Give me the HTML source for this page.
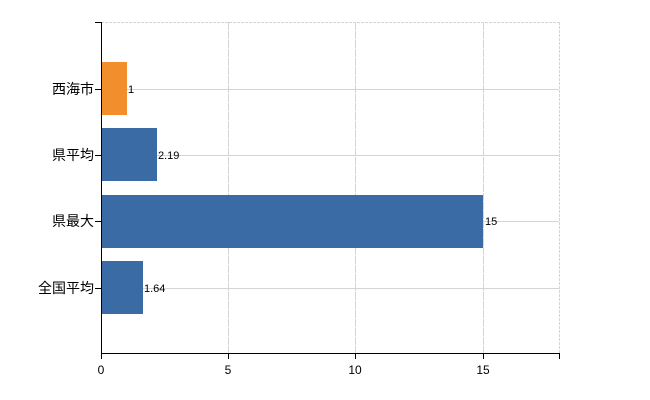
<!DOCTYPE html>
<html><head><meta charset="utf-8"><style>body{margin:0;background:#fff}svg{display:block}</style></head><body>
<svg width="650" height="400" xmlns="http://www.w3.org/2000/svg" font-family="Liberation Sans, Noto Sans CJK JP, sans-serif">
<g stroke="#d4d4d4" stroke-width="1">
<line x1="101" y1="22.5" x2="559" y2="22.5" stroke-dasharray="3,1"/>
<line x1="101" y1="89.5" x2="559" y2="89.5"/>
<line x1="101" y1="155.5" x2="559" y2="155.5"/>
<line x1="101" y1="221.5" x2="559" y2="221.5"/>
<line x1="101" y1="288.5" x2="559" y2="288.5"/>
<line x1="228.5" y1="22" x2="228.5" y2="353" stroke-dasharray="8,1"/>
<line x1="355.5" y1="22" x2="355.5" y2="353" stroke-dasharray="8,1"/>
<line x1="483.5" y1="22" x2="483.5" y2="353" stroke-dasharray="8,1"/>
<line x1="559.5" y1="22" x2="559.5" y2="353" stroke-dasharray="3,1"/>
</g>
<rect x="101" y="62" width="26" height="53" fill="#f28e2b"/>
<rect x="101" y="128" width="56" height="53" fill="#3b6ba5"/>
<rect x="101" y="195" width="382" height="53" fill="#3b6ba5"/>
<rect x="101" y="261" width="42" height="53" fill="#3b6ba5"/>
<g font-size="11" fill="#000">
<text x="128" y="93">1</text>
<text x="158" y="159">2.19</text>
<text x="485" y="225">15</text>
<text x="144" y="292">1.64</text>
</g>
<g stroke="#000" stroke-width="1">
<line x1="101.5" y1="22" x2="101.5" y2="353"/>
<line x1="101" y1="353.5" x2="559" y2="353.5"/>
<line x1="95" y1="22.5" x2="101" y2="22.5"/>
<line x1="95" y1="89.5" x2="101" y2="89.5"/>
<line x1="95" y1="155.5" x2="101" y2="155.5"/>
<line x1="95" y1="221.5" x2="101" y2="221.5"/>
<line x1="95" y1="288.5" x2="101" y2="288.5"/>
<line x1="101.5" y1="353" x2="101.5" y2="359"/>
<line x1="228.5" y1="353" x2="228.5" y2="359"/>
<line x1="355.5" y1="353" x2="355.5" y2="359"/>
<line x1="483.5" y1="353" x2="483.5" y2="359"/>
<line x1="559.5" y1="353" x2="559.5" y2="359"/>
</g>
<g font-size="14" fill="#000" text-anchor="end">
<text x="94" y="94">西海市</text>
<text x="94" y="160">県平均</text>
<text x="94" y="226">県最大</text>
<text x="94" y="293">全国平均</text>
</g>
<g font-size="12" fill="#000" text-anchor="middle">
<text x="101" y="374">0</text>
<text x="228" y="374">5</text>
<text x="355" y="374">10</text>
<text x="483" y="374">15</text>
</g>
</svg>
</body></html>
